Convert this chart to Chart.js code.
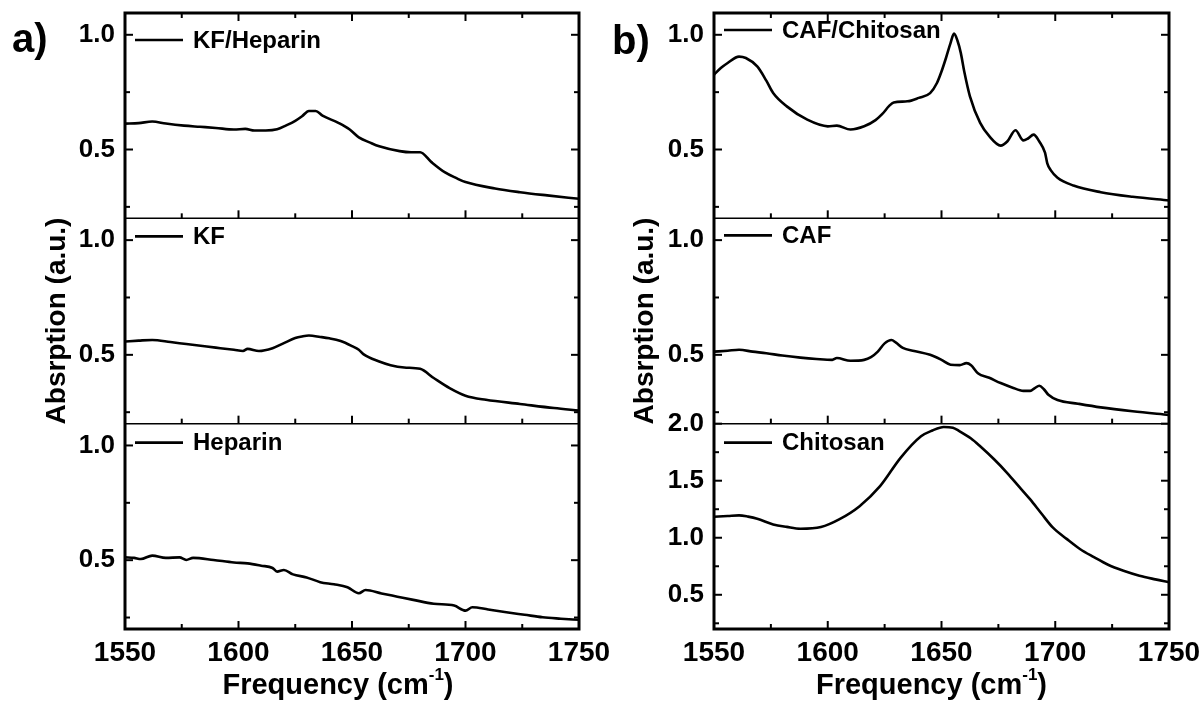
<!DOCTYPE html>
<html>
<head>
<meta charset="utf-8">
<script src="https://cdn.jsdelivr.net/npm/chart.js@4.4.0/dist/chart.umd.min.js"></script>
<style>
  html, body { margin: 0; padding: 0; background: #fff; }
  #wrap { position: relative; width: 1203px; height: 713px; overflow: hidden; background: #fff; }
  canvas { position: absolute; top: 0; }
  #chartA { left: 0; }
  #chartB { left: 600px; }
  .tag { position: absolute; font: bold 40px "Liberation Sans", Arial, sans-serif; line-height: 1; color: #000; }
</style>
</head>
<body>
<div id="wrap">
  <canvas id="chartA" width="640" height="713"></canvas>
  <canvas id="chartB" width="603" height="713"></canvas>
  <div class="tag" style="left:12px;top:18px">a)</div>
  <div class="tag" style="left:612px;top:20px">b)</div>
</div>
<script>
// ---- data ----
const kfHepFreq = [1550, 1556, 1562, 1568, 1576, 1583, 1590, 1598, 1603, 1607, 1612, 1617, 1621, 1625, 1628, 1631, 1634, 1637, 1644, 1649, 1653, 1658, 1662, 1671, 1676, 1680, 1685, 1691, 1696, 1700, 1713, 1724, 1736, 1750];
const kfHepAbs = [0.613, 0.615, 0.622, 0.613, 0.604, 0.599, 0.594, 0.587, 0.59, 0.583, 0.583, 0.588, 0.605, 0.625, 0.645, 0.668, 0.668, 0.648, 0.616, 0.587, 0.553, 0.53, 0.514, 0.493, 0.488, 0.488, 0.445, 0.4, 0.375, 0.358, 0.33, 0.314, 0.3, 0.285];

const kfFreq = [1550, 1556, 1562, 1570, 1577, 1586, 1592, 1598, 1602, 1604, 1609, 1615, 1620, 1625, 1628, 1631, 1636, 1640, 1645, 1650, 1653, 1655, 1662, 1667, 1673, 1680, 1686, 1693, 1700, 1709, 1724, 1739, 1750];
const kfAbs = [0.558, 0.562, 0.565, 0.556, 0.547, 0.536, 0.529, 0.522, 0.517, 0.526, 0.517, 0.529, 0.551, 0.573, 0.58, 0.584, 0.578, 0.572, 0.56, 0.538, 0.522, 0.503, 0.471, 0.455, 0.445, 0.439, 0.399, 0.355, 0.322, 0.304, 0.286, 0.268, 0.257];

const hepFreq = [1550, 1554, 1557, 1562, 1568, 1574, 1577, 1580, 1589, 1598, 1604, 1610, 1615, 1617, 1620, 1624, 1630, 1636, 1642, 1648, 1653, 1656, 1663, 1670, 1677, 1686, 1695, 1700, 1703, 1710, 1718, 1726, 1734, 1742, 1750];
const hepAbs = [0.512, 0.51, 0.505, 0.52, 0.51, 0.512, 0.501, 0.51, 0.501, 0.49, 0.486, 0.476, 0.466, 0.45, 0.457, 0.438, 0.425, 0.404, 0.395, 0.382, 0.356, 0.37, 0.355, 0.341, 0.327, 0.31, 0.302, 0.28, 0.295, 0.285, 0.273, 0.262, 0.251, 0.245, 0.24];

const cafChiFreq = [1550, 1553, 1556, 1561, 1564, 1569, 1573, 1576, 1582, 1591, 1600, 1604, 1610, 1616, 1621, 1624, 1627, 1629, 1635, 1640, 1645, 1648, 1650, 1652, 1654, 1655.5, 1657, 1658.5, 1660, 1662.5, 1667, 1671, 1676, 1679, 1682.5, 1686, 1688, 1690.5, 1693, 1695.5, 1696.5, 1698, 1701, 1708, 1720, 1734, 1750];
const cafChiAbs = [0.826, 0.855, 0.877, 0.905, 0.899, 0.862, 0.8, 0.746, 0.688, 0.63, 0.601, 0.604, 0.587, 0.601, 0.628, 0.655, 0.69, 0.705, 0.71, 0.725, 0.746, 0.79, 0.84, 0.9, 0.965, 1.005, 0.975, 0.92, 0.84, 0.732, 0.616, 0.558, 0.517, 0.536, 0.584, 0.54, 0.548, 0.565, 0.535, 0.486, 0.44, 0.41, 0.377, 0.343, 0.314, 0.294, 0.278];

const cafFreq = [1550, 1556, 1561, 1567, 1573, 1580, 1588, 1595, 1602, 1604, 1610, 1616, 1619, 1622, 1625, 1628, 1630, 1633, 1638, 1645, 1650, 1654, 1658, 1661, 1663, 1666, 1671, 1676, 1681, 1686, 1689, 1691, 1693, 1695, 1697, 1701, 1710, 1720, 1734, 1750];
const cafAbs = [0.514, 0.518, 0.522, 0.514, 0.507, 0.497, 0.488, 0.482, 0.478, 0.486, 0.474, 0.478, 0.49, 0.514, 0.55, 0.565, 0.553, 0.53, 0.517, 0.5, 0.478, 0.457, 0.455, 0.464, 0.455, 0.42, 0.4, 0.377, 0.358, 0.343, 0.343, 0.355, 0.365, 0.35, 0.326, 0.303, 0.287, 0.271, 0.254, 0.238];

const chiFreq = [1550, 1556, 1561, 1565, 1569, 1576, 1582, 1588, 1597, 1605, 1614, 1623, 1632, 1641, 1646, 1651, 1655, 1658, 1663, 1667, 1673, 1679, 1684, 1689, 1694, 1699, 1705, 1711, 1717, 1723, 1730, 1737, 1744, 1750];
const chiAbs = [1.184, 1.19, 1.196, 1.185, 1.167, 1.117, 1.095, 1.079, 1.094, 1.161, 1.277, 1.452, 1.7, 1.889, 1.94, 1.971, 1.965, 1.933, 1.87, 1.802, 1.69, 1.565, 1.45, 1.336, 1.21, 1.088, 0.99, 0.899, 0.83, 0.765, 0.71, 0.667, 0.635, 0.61];

const freqRange = [1550, 1750];
const absRange = [0.2, 1.095];
const chiRange = [0.2, 2.0];

// ---- rendering ----
const FONT = '"Liberation Sans", Arial, sans-serif';
Chart.defaults.font.family = FONT;
Chart.defaults.color = "#000";

const pts = (xs, ys) => xs.map((x, i) => ({ x, y: ys[i] }));
const onStep = (v, step) => Math.abs(v / step - Math.round(v / step)) < 1e-6;
const noPad = s => { s.paddingTop = 0; s.paddingBottom = 0; s.paddingLeft = 0; s.paddingRight = 0; };

const framePlugin = {
  id: "frame",
  afterDatasetsDraw(chart, args, opts) {
    const { ctx, chartArea: a } = chart;
    const xs = chart.scales.x;
    const ys = opts.axes.map(id => chart.scales[id]);
    const line = (x1, y1, x2, y2) => { ctx.beginPath(); ctx.moveTo(x1, y1); ctx.lineTo(x2, y2); ctx.stroke(); };

    ctx.save();
    ctx.strokeStyle = "#000";
    ctx.lineCap = "butt";

    // dividers between stacked panels
    ctx.lineWidth = 1.5;
    ys.slice(1).forEach(s => line(a.left, s.top, a.right, s.top));

    // inward ticks
    ctx.lineWidth = 2;
    ys.forEach((s, i) => {
      s.ticks.forEach(t => {
        const py = s.getPixelForValue(t.value);
        const len = onStep(t.value, 0.5) ? 8 : 5;
        line(a.left, py, a.left + len, py);
        line(a.right - len, py, a.right, py);
      });
      xs.ticks.forEach(t => {
        const px = xs.getPixelForValue(t.value);
        const len = onStep(t.value, 50) ? 8 : 5;
        line(px, s.bottom, px, s.bottom - len);
        if (i === 0) line(px, s.top, px, s.top + len);
      });
    });

    // outer frame
    ctx.lineWidth = 3;
    ctx.strokeRect(a.left, a.top, a.right - a.left, a.bottom - a.top);

    // legends, one per stacked panel
    chart.data.datasets.forEach((ds, i) => {
      const s = ys[i];
      const y = s.top + opts.legendDy[i];
      ctx.lineWidth = 2.6;
      line(a.left + 10, y, a.left + 58, y);
      ctx.fillStyle = "#000";
      ctx.font = "bold 24px " + FONT;
      ctx.textAlign = "left";
      ctx.textBaseline = "middle";
      ctx.fillText(ds.label, a.left + 68, y + 1);
    });

    // x axis title with superscript
    const big = "bold 29px " + FONT, small = "bold 17px " + FONT;
    ctx.font = big;
    const w1 = ctx.measureText("Frequency (cm").width;
    const w3 = ctx.measureText(")").width;
    ctx.font = small;
    const w2 = ctx.measureText("-1").width;
    let tx = (a.left + a.right) / 2 + opts.titleDx - (w1 + w2 + w3) / 2;
    const ty = 694;
    ctx.textBaseline = "alphabetic";
    ctx.font = big;
    ctx.fillText("Frequency (cm", tx, ty);
    tx += w1;
    ctx.font = small;
    ctx.fillText("-1", tx, ty - 14);
    tx += w2;
    ctx.font = big;
    ctx.fillText(")", tx, ty);
    ctx.restore();
  }
};

function yAxis(range, width, title) {
  return {
    type: "linear",
    position: "left",
    stack: "panels",
    stackWeight: 1,
    min: range[0],
    max: range[1],
    grid: { display: false, drawTicks: false },
    border: { display: false },
    ticks: {
      stepSize: 0.25,
      includeBounds: false,
      autoSkip: false,
      padding: 10,
      color: "#000",
      font: { size: 26, weight: "bold" },
      callback: v => (onStep(v, 0.5) ? v.toFixed(1) : "")
    },
    title: title || { display: false },
    afterFit: s => { s.width = width; noPad(s); }
  };
}

function yTitle(pad) {
  return {
    display: true,
    text: "Absrption (a.u.)",
    color: "#000",
    font: { size: 28, weight: "bold" },
    padding: { top: pad, bottom: 0 }
  };
}

function makePanel(id, series, ranges, yWidth, rightPad, titlePad, legendDy, titleDx) {
  const axes = ["yTop", "yMid", "yBot"];
  new Chart(document.getElementById(id), {
    type: "line",
    data: {
      datasets: series.map((s, i) => ({
        label: s.label,
        data: pts(s.freq, s.abs),
        yAxisID: axes[i],
        borderColor: "#000",
        borderWidth: 2.6,
        pointRadius: 0,
        fill: false,
        cubicInterpolationMode: "monotone"
      }))
    },
    options: {
      responsive: false,
      animation: false,
      events: [],
      layout: { padding: { top: 13, right: rightPad, left: 0, bottom: 0 } },
      plugins: {
        legend: { display: false },
        tooltip: { enabled: false },
        frame: { axes, legendDy, titleDx }
      },
      scales: {
        x: {
          type: "linear",
          position: "bottom",
          min: freqRange[0],
          max: freqRange[1],
          grid: { display: false, drawTicks: false },
          border: { display: false },
          ticks: {
            stepSize: 25,
            autoSkip: false,
            maxRotation: 0,
            minRotation: 0,
            padding: 7,
            color: "#000",
            font: { size: 28, weight: "bold" },
            callback: v => (onStep(v, 50) ? String(v) : "")
          },
          afterFit: s => { s.height = 84; noPad(s); }
        },
        yBot: yAxis(ranges[2], yWidth),
        yMid: yAxis(ranges[1], yWidth, yTitle(titlePad)),
        yTop: yAxis(ranges[0], yWidth)
      }
    },
    plugins: [framePlugin]
  });
}

makePanel("chartA", [
  { label: "KF/Heparin", freq: kfHepFreq, abs: kfHepAbs },
  { label: "KF", freq: kfFreq, abs: kfAbs },
  { label: "Heparin", freq: hepFreq, abs: hepAbs }
], [absRange, absRange, absRange], 125, 61, 40, [27, 18, 19], -14);

makePanel("chartB", [
  { label: "CAF/Chitosan", freq: cafChiFreq, abs: cafChiAbs },
  { label: "CAF", freq: cafFreq, abs: cafAbs },
  { label: "Chitosan", freq: chiFreq, abs: chiAbs }
], [absRange, absRange, chiRange], 114, 34, 28, [17, 17, 19], -10);
</script>
</body>
</html>
